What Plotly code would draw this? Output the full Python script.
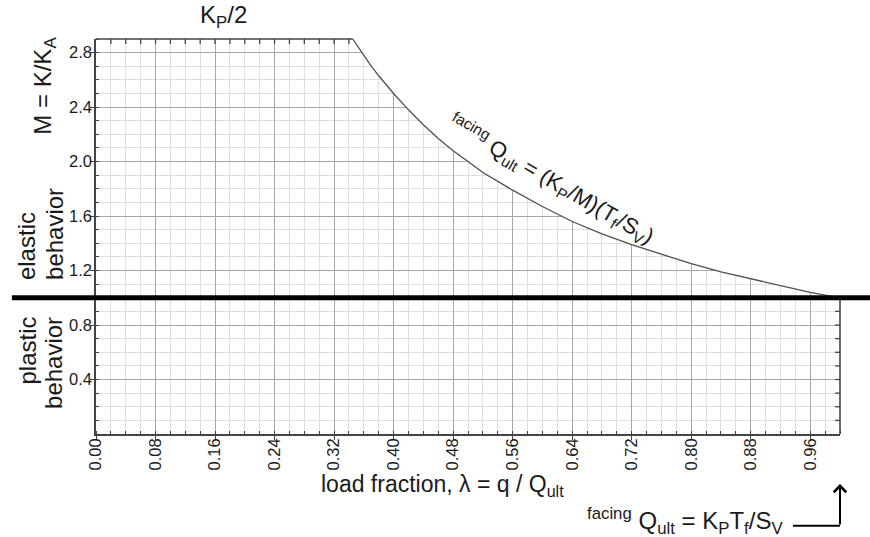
import plotly.graph_objects as go

# ---- data ----
lam = [0.345, 0.35, 0.36, 0.37, 0.38, 0.40, 0.42, 0.44, 0.46, 0.48, 0.50, 0.52, 0.56, 0.60,
       0.64, 0.68, 0.72, 0.76, 0.80, 0.84, 0.88, 0.92, 0.96, 1.00]
M = [2.90, 2.86, 2.78, 2.70, 2.63, 2.50, 2.38, 2.27, 2.17, 2.08, 2.00, 1.92, 1.79, 1.67,
     1.56, 1.47, 1.39, 1.32, 1.25, 1.19, 1.14, 1.09, 1.04, 1.00]
M_yield = 1.0          # elastic / plastic boundary
M_top = 2.9            # K_P/2 cap
lam_max = 1.0
x_ticks = [0.00, 0.08, 0.16, 0.24, 0.32, 0.40, 0.48, 0.56, 0.64, 0.72, 0.80, 0.88, 0.96]
y_ticks = [0.4, 0.8, 1.2, 1.6, 2.0, 2.4, 2.8]
top_ticks = [0.02, 0.04, 0.06, 0.08, 0.10, 0.12, 0.14, 0.16, 0.18, 0.20, 0.22, 0.24,
             0.26, 0.28, 0.30, 0.32, 0.34]
right_ticks = [0.1, 0.2, 0.3, 0.4, 0.5, 0.6, 0.7, 0.8, 0.9]

FONT = "Liberation Sans, Arial, Helvetica, sans-serif"
AX = "#444444"
TXT = "#1a1a1a"

fig = go.Figure()

# white mask above the curve (hides grid there)
mask_x = lam + [lam_max + 0.05, lam_max + 0.05, lam[0]]
mask_y = M + [M_yield, M_top + 0.1, M_top + 0.1]
fig.add_trace(go.Scatter(x=mask_x, y=mask_y, mode="lines", fill="toself",
                         fillcolor="white", line=dict(width=0, color="white"),
                         hoverinfo="skip", showlegend=False))

# curve
fig.add_trace(go.Scatter(x=lam, y=M, mode="lines",
                         line=dict(color="#505050", width=1.3),
                         hoverinfo="skip", showlegend=False))

# inward ticks on top edge and right edge (half clipped markers)
fig.add_trace(go.Scatter(x=top_ticks, y=[M_top] * len(top_ticks), mode="markers",
                         marker=dict(symbol="line-ns", size=7,
                                     line=dict(color=AX, width=1.3)),
                         hoverinfo="skip", showlegend=False))
fig.add_trace(go.Scatter(x=[lam_max] * len(right_ticks), y=right_ticks, mode="markers",
                         marker=dict(symbol="line-ew", size=7,
                                     line=dict(color=AX, width=1.3)),
                         hoverinfo="skip", showlegend=False))

# borders
fig.add_shape(type="line", xref="x", yref="paper", x0=0, x1=lam[0], y0=1, y1=1,
              line=dict(color=AX, width=1.6), layer="above")
fig.add_shape(type="line", xref="paper", yref="y", x0=1, x1=1, y0=0, y1=M_yield,
              line=dict(color=AX, width=1.6), layer="above")
# thick yield line
fig.add_shape(type="line", xref="paper", yref="y", x0=-0.113, x1=1.045,
              y0=M_yield, y1=M_yield, line=dict(color="black", width=5), layer="above")

fig.update_xaxes(range=[0, lam_max], tickvals=x_ticks, tickformat=".2f", tickangle=-90,
                 showline=True, linecolor=AX, linewidth=1.6,
                 ticks="outside", ticklen=4, tickcolor=AX, tickwidth=1.2,
                 ticklabelstandoff=-8,
                 showgrid=True, gridcolor="#a6a6a6", gridwidth=1, zeroline=False,
                 tickfont=dict(family=FONT, size=16.5, color=TXT),
                 minor=dict(dtick=0.02, tick0=0, showgrid=True, gridcolor="#dedede",
                            gridwidth=1, ticks="inside", ticklen=3, tickcolor=AX))
fig.update_yaxes(range=[0, M_top], tickvals=y_ticks, tickformat=".1f",
                 showline=True, linecolor=AX, linewidth=1.6,
                 ticks="outside", ticklen=4, tickcolor=AX, tickwidth=1.2,
                 ticklabelstandoff=-5,
                 showgrid=True, gridcolor="#a6a6a6", gridwidth=1, zeroline=False,
                 tickfont=dict(family=FONT, size=16.5, color=TXT),
                 minor=dict(dtick=0.1, tick0=0, showgrid=True, gridcolor="#dedede",
                            gridwidth=1, ticks="inside", ticklen=3, tickcolor=AX))

ann = []
def A(text, x, y, size=24, angle=0, xref="paper", yref="paper", xa="center", ya="middle"):
    ann.append(dict(text=text, x=x, y=y, xref=xref, yref=yref, showarrow=False,
                    textangle=angle, xanchor=xa, yanchor=ya,
                    font=dict(family=FONT, size=size, color=TXT)))

A("K<sub>P</sub>/2", 0.1707, 1.0557)
A("M = K/K<sub>A</sub>", -0.0685, 0.882, angle=-90)
A("elastic", -0.094, 0.3848, angle=-90, ya="bottom")
A("behavior", -0.0565, 0.3848, angle=-90, ya="bottom")
A("plastic", -0.092, 0.3013, angle=-90, ya="top")
A("behavior", -0.0565, 0.3013, angle=-90, ya="top")
A("<sup>facing</sup> Q<sub>ult</sub> = (K<sub>P</sub>/M)(T<sub>f</sub>/S<sub>V</sub>)",
  0.6116, 1.872, size=22, angle=30, xref="x", yref="y")
A("load fraction, λ = q / Q<sub>ult</sub>", 0.466, -0.1316, size=23)
A("<sup>facing</sup> Q<sub>ult</sub> = K<sub>P</sub>T<sub>f</sub>/S<sub>V</sub>",
  0.7917, -0.219, size=24)

# arrow pointing up to lambda = 1
ann.append(dict(text="", x=1.0, y=-0.1266, xref="paper", yref="paper",
                showarrow=True, ax=0, ay=42, arrowhead=4, arrowsize=1.2,
                arrowwidth=2, arrowcolor="black"))
fig.add_shape(type="line", xref="paper", yref="paper", x0=0.9368, x1=1.0,
              y0=-0.232, y1=-0.232, line=dict(color="black", width=2))

fig.update_layout(width=870, height=537, margin=dict(l=96, r=30, t=39, b=103),
                  paper_bgcolor="white", plot_bgcolor="white", annotations=ann,
                  showlegend=False)

fig.write_html("out.html", config={"displayModeBar": False},
               post_script="document.body.style.margin='0';document.body.style.padding='0';")
